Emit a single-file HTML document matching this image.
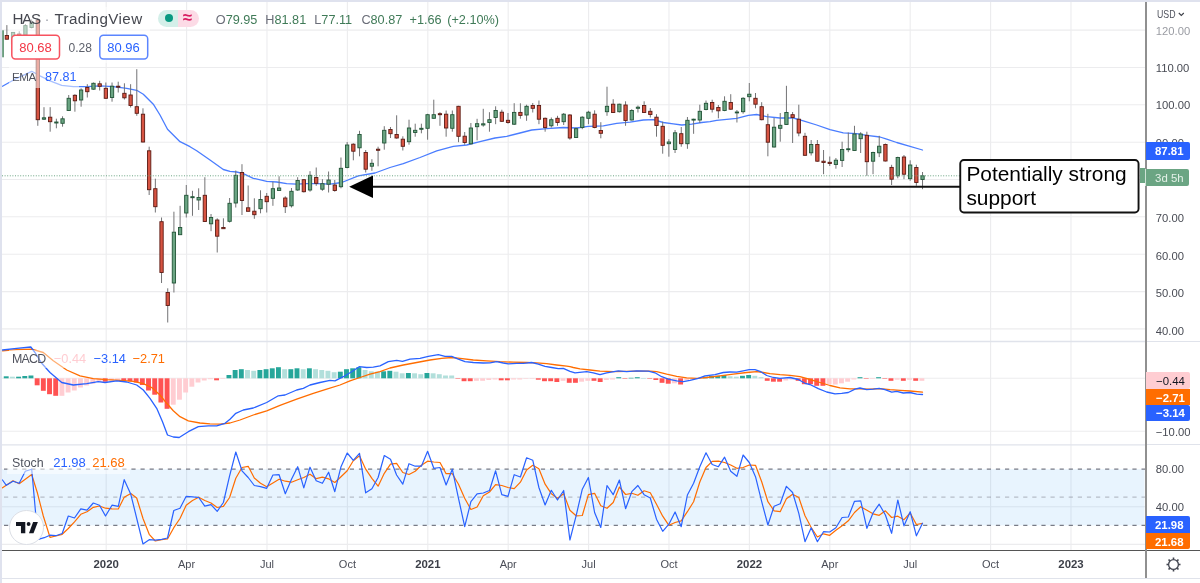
<!DOCTYPE html>
<html lang="en"><head><meta charset="utf-8"><title>HAS · TradingView</title>
<style>
html,body{margin:0;padding:0;background:#fff;}
body{width:1200px;height:583px;position:relative;overflow:hidden;font-family:"Liberation Sans",sans-serif;color:#4a4d57;}
.chart{position:absolute;left:0;top:0;}
.abs{position:absolute;white-space:nowrap;}
.lg{position:absolute;white-space:nowrap;background:rgba(255,255,255,.52);}
.plab{position:absolute;font-size:11.4px;text-align:left;box-sizing:border-box;padding-left:9px;border-radius:0 2px 2px 0;white-space:nowrap;}
.ptxt{position:absolute;font-size:11.25px;left:1155.8px;color:#484b54;white-space:nowrap;line-height:12px;}
.tl{position:absolute;font-size:11px;top:558px;width:60px;text-align:center;line-height:13px;color:#4a4d57;}
.tl.b{font-weight:700;font-size:11.4px;color:#3c3f48;}
.box{position:absolute;box-sizing:border-box;border:1px solid;border-radius:4px;font-size:13px;text-align:center;background:#fff;}
</style></head><body>
<svg class="chart" width="1200" height="583" viewBox="0 0 1200 583">
<g stroke="#ececee" stroke-width="1.1">
<line x1="106.2" y1="2" x2="106.2" y2="550"/>
<line x1="186.6" y1="2" x2="186.6" y2="550"/>
<line x1="267.0" y1="2" x2="267.0" y2="550"/>
<line x1="347.4" y1="2" x2="347.4" y2="550"/>
<line x1="427.8" y1="2" x2="427.8" y2="550"/>
<line x1="508.2" y1="2" x2="508.2" y2="550"/>
<line x1="588.6" y1="2" x2="588.6" y2="550"/>
<line x1="669.0" y1="2" x2="669.0" y2="550"/>
<line x1="749.4" y1="2" x2="749.4" y2="550"/>
<line x1="829.8" y1="2" x2="829.8" y2="550"/>
<line x1="910.2" y1="2" x2="910.2" y2="550"/>
<line x1="990.6" y1="2" x2="990.6" y2="550"/>
<line x1="1071.0" y1="2" x2="1071.0" y2="550"/>
<line x1="2" y1="328.9" x2="1146.0" y2="328.9"/>
<line x1="2" y1="291.6" x2="1146.0" y2="291.6"/>
<line x1="2" y1="254.2" x2="1146.0" y2="254.2"/>
<line x1="2" y1="216.8" x2="1146.0" y2="216.8"/>
<line x1="2" y1="179.5" x2="1146.0" y2="179.5"/>
<line x1="2" y1="142.2" x2="1146.0" y2="142.2"/>
<line x1="2" y1="104.8" x2="1146.0" y2="104.8"/>
<line x1="2" y1="67.5" x2="1146.0" y2="67.5"/>
<line x1="2" y1="30.1" x2="1146.0" y2="30.1"/>
<line x1="2" y1="378.2" x2="1146.0" y2="378.2"/>
<line x1="2" y1="431.3" x2="1146.0" y2="431.3"/>
<line x1="2" y1="506.7" x2="1146.0" y2="506.7"/>
<line x1="2" y1="544.4" x2="1146.0" y2="544.4"/>
</g>
<rect x="2" y="469.2" width="1142.5" height="56.2" fill="#2196f3" fill-opacity="0.10"/>
<g stroke="#787b86" stroke-width="1.2" stroke-dasharray="4.2 4.9" fill="none">
<line x1="4" y1="469.2" x2="1146.0" y2="469.2"/>
<line x1="4" y1="525.4" x2="1146.0" y2="525.4"/>
<line x1="4" y1="497.1" x2="1146.0" y2="497.1" stroke-opacity="0.45"/>
</g>
<polyline points="2.5,86.3 16.7,78.3 31.7,71.3 40.0,75.8 50.0,80.8 61.7,85.3 73.3,86.7 86.7,86.7 100.0,85.8 113.3,86.7 126.7,88.3 136.7,90.3 143.3,94.2 153.3,104.2 160.0,115.0 167.5,129.2 180.0,141.7 190.0,146.7 196.7,150.8 210.0,160.0 223.3,169.5 230.0,171.3 236.7,172.0 243.3,173.7 253.3,178.3 266.7,181.3 276.7,182.0 286.7,183.7 296.7,184.2 306.7,183.7 316.7,183.7 330.0,184.2 341.7,182.5 358.3,175.8 375.0,173.0 390.0,167.5 403.3,163.7 420.0,157.5 436.7,150.8 453.3,146.3 466.7,145.0 480.0,141.7 495.0,138.0 506.7,136.3 520.0,133.0 531.7,130.0 546.7,128.7 563.3,127.5 576.7,128.0 588.3,126.3 603.3,125.8 616.7,123.3 630.0,122.2 643.3,120.0 653.3,119.7 663.3,122.5 673.3,123.8 681.7,125.0 691.7,124.2 701.7,122.5 710.0,121.7 716.7,120.3 736.7,118.3 748.3,115.3 756.7,114.5 766.7,116.7 780.0,118.0 793.3,118.0 803.3,120.8 816.7,125.0 830.0,129.7 843.3,132.8 856.7,133.7 866.7,135.3 880.0,137.0 886.7,139.2 896.7,142.5 908.3,145.8 922.5,150.0" fill="none" stroke="#4a7dff" stroke-width="1.3" stroke-linejoin="round" stroke-linecap="round"/>
<g class="candles">
<g><line x1="31.61" y1="19.4" x2="31.61" y2="28.4" stroke="#737375" stroke-width="1"/><rect x="29.96" y="22.7" width="3.3" height="4.8" fill="#6ba583" stroke="#225437" stroke-width="0.9"/></g>
<g><line x1="25.43" y1="24.0" x2="25.43" y2="40.0" stroke="#737375" stroke-width="1"/><rect x="23.78" y="25.6" width="3.3" height="9.4" fill="#6ba583" stroke="#225437" stroke-width="0.9"/></g>
<g><line x1="19.24" y1="31.2" x2="19.24" y2="44.0" stroke="#737375" stroke-width="1"/><rect x="17.59" y="34.0" width="3.3" height="4.0" fill="#d75442" stroke="#5b1a13" stroke-width="0.9"/></g>
<g><line x1="13.05" y1="32.0" x2="13.05" y2="46.0" stroke="#737375" stroke-width="1"/><rect x="11.40" y="32.4" width="3.3" height="11.6" fill="#6ba583" stroke="#225437" stroke-width="0.9"/></g>
<g><line x1="6.86" y1="25.1" x2="6.86" y2="39.4" stroke="#737375" stroke-width="1"/><rect x="5.21" y="35.5" width="3.3" height="3.7" fill="#d75442" stroke="#5b1a13" stroke-width="0.9"/></g>
<rect x="2.2" y="30.3" width="1.7" height="27" fill="#5c9473"/>
<g><line x1="37.80" y1="18.0" x2="37.80" y2="125.8" stroke="#737375" stroke-width="1"/><rect x="36.15" y="20.0" width="3.3" height="99.7" fill="#d75442" stroke="#5b1a13" stroke-width="0.9"/></g>
<g><line x1="43.99" y1="107.2" x2="43.99" y2="120.0" stroke="#737375" stroke-width="1"/><rect x="42.34" y="117.8" width="3.3" height="1.4" fill="#6ba583" stroke="#225437" stroke-width="0.9"/></g>
<g><line x1="50.17" y1="107.2" x2="50.17" y2="131.7" stroke="#737375" stroke-width="1"/><rect x="48.52" y="117.2" width="3.3" height="4.5" fill="#d75442" stroke="#5b1a13" stroke-width="0.9"/></g>
<g><line x1="56.36" y1="118.7" x2="56.36" y2="128.3" stroke="#737375" stroke-width="1"/><rect x="54.71" y="122.0" width="3.3" height="1.0" fill="#6ba583" stroke="#225437" stroke-width="0.9"/></g>
<g><line x1="62.55" y1="116.3" x2="62.55" y2="126.7" stroke="#737375" stroke-width="1"/><rect x="60.90" y="118.8" width="3.3" height="4.5" fill="#6ba583" stroke="#225437" stroke-width="0.9"/></g>
<g><line x1="68.73" y1="95.0" x2="68.73" y2="110.8" stroke="#737375" stroke-width="1"/><rect x="67.08" y="98.3" width="3.3" height="12.2" fill="#6ba583" stroke="#225437" stroke-width="0.9"/></g>
<g><line x1="74.92" y1="94.2" x2="74.92" y2="111.7" stroke="#737375" stroke-width="1"/><rect x="73.27" y="95.3" width="3.3" height="5.5" fill="#d75442" stroke="#5b1a13" stroke-width="0.9"/></g>
<g><line x1="81.11" y1="88.3" x2="81.11" y2="106.7" stroke="#737375" stroke-width="1"/><rect x="79.46" y="90.0" width="3.3" height="10.0" fill="#6ba583" stroke="#225437" stroke-width="0.9"/></g>
<g><line x1="87.30" y1="84.2" x2="87.30" y2="97.5" stroke="#737375" stroke-width="1"/><rect x="85.65" y="87.5" width="3.3" height="4.2" fill="#d75442" stroke="#5b1a13" stroke-width="0.9"/></g>
<g><line x1="93.48" y1="82.5" x2="93.48" y2="89.7" stroke="#737375" stroke-width="1"/><rect x="91.83" y="83.3" width="3.3" height="5.9" fill="#6ba583" stroke="#225437" stroke-width="0.9"/></g>
<g><line x1="99.67" y1="80.8" x2="99.67" y2="90.5" stroke="#737375" stroke-width="1"/><rect x="98.02" y="83.8" width="3.3" height="2.5" fill="#d75442" stroke="#5b1a13" stroke-width="0.9"/></g>
<g><line x1="105.86" y1="82.5" x2="105.86" y2="98.7" stroke="#737375" stroke-width="1"/><rect x="104.21" y="88.3" width="3.3" height="10.0" fill="#d75442" stroke="#5b1a13" stroke-width="0.9"/></g>
<g><line x1="112.04" y1="82.5" x2="112.04" y2="101.7" stroke="#737375" stroke-width="1"/><rect x="110.39" y="86.2" width="3.3" height="11.3" fill="#6ba583" stroke="#225437" stroke-width="0.9"/></g>
<g><line x1="118.23" y1="81.7" x2="118.23" y2="92.5" stroke="#737375" stroke-width="1"/><rect x="116.58" y="86.2" width="3.3" height="1.0" fill="#d75442" stroke="#5b1a13" stroke-width="0.9"/></g>
<g><line x1="124.42" y1="83.3" x2="124.42" y2="99.5" stroke="#737375" stroke-width="1"/><rect x="122.77" y="93.3" width="3.3" height="4.5" fill="#d75442" stroke="#5b1a13" stroke-width="0.9"/></g>
<g><line x1="130.61" y1="84.2" x2="130.61" y2="107.5" stroke="#737375" stroke-width="1"/><rect x="128.96" y="95.0" width="3.3" height="10.5" fill="#d75442" stroke="#5b1a13" stroke-width="0.9"/></g>
<g><line x1="136.79" y1="69.2" x2="136.79" y2="115.8" stroke="#737375" stroke-width="1"/><rect x="135.14" y="106.7" width="3.3" height="6.6" fill="#d75442" stroke="#5b1a13" stroke-width="0.9"/></g>
<g><line x1="142.98" y1="108.3" x2="142.98" y2="142.5" stroke="#737375" stroke-width="1"/><rect x="141.33" y="114.2" width="3.3" height="27.8" fill="#d75442" stroke="#5b1a13" stroke-width="0.9"/></g>
<g><line x1="149.17" y1="146.7" x2="149.17" y2="195.0" stroke="#737375" stroke-width="1"/><rect x="147.52" y="150.8" width="3.3" height="38.9" fill="#d75442" stroke="#5b1a13" stroke-width="0.9"/></g>
<g><line x1="155.35" y1="178.7" x2="155.35" y2="212.5" stroke="#737375" stroke-width="1"/><rect x="153.70" y="188.7" width="3.3" height="18.0" fill="#d75442" stroke="#5b1a13" stroke-width="0.9"/></g>
<g><line x1="161.54" y1="217.5" x2="161.54" y2="283.0" stroke="#737375" stroke-width="1"/><rect x="159.89" y="221.7" width="3.3" height="50.8" fill="#d75442" stroke="#5b1a13" stroke-width="0.9"/></g>
<g><line x1="167.73" y1="288.3" x2="167.73" y2="322.5" stroke="#737375" stroke-width="1"/><rect x="166.08" y="292.5" width="3.3" height="13.0" fill="#d75442" stroke="#5b1a13" stroke-width="0.9"/></g>
<g><line x1="173.91" y1="211.7" x2="173.91" y2="292.5" stroke="#737375" stroke-width="1"/><rect x="172.26" y="232.2" width="3.3" height="50.8" fill="#6ba583" stroke="#225437" stroke-width="0.9"/></g>
<g><line x1="180.10" y1="205.8" x2="180.10" y2="234.7" stroke="#737375" stroke-width="1"/><rect x="178.45" y="227.5" width="3.3" height="7.2" fill="#6ba583" stroke="#225437" stroke-width="0.9"/></g>
<g><line x1="186.29" y1="185.0" x2="186.29" y2="217.5" stroke="#737375" stroke-width="1"/><rect x="184.64" y="195.3" width="3.3" height="17.7" fill="#6ba583" stroke="#225437" stroke-width="0.9"/></g>
<g><line x1="192.48" y1="190.8" x2="192.48" y2="215.8" stroke="#737375" stroke-width="1"/><rect x="190.83" y="196.7" width="3.3" height="1.0" fill="#6ba583" stroke="#225437" stroke-width="0.9"/></g>
<g><line x1="198.66" y1="188.3" x2="198.66" y2="210.0" stroke="#737375" stroke-width="1"/><rect x="197.01" y="197.5" width="3.3" height="2.5" fill="#6ba583" stroke="#225437" stroke-width="0.9"/></g>
<g><line x1="204.85" y1="177.2" x2="204.85" y2="221.7" stroke="#737375" stroke-width="1"/><rect x="203.20" y="195.3" width="3.3" height="26.2" fill="#d75442" stroke="#5b1a13" stroke-width="0.9"/></g>
<g><line x1="211.04" y1="214.0" x2="211.04" y2="231.2" stroke="#737375" stroke-width="1"/><rect x="209.39" y="217.5" width="3.3" height="6.3" fill="#6ba583" stroke="#225437" stroke-width="0.9"/></g>
<g><line x1="217.22" y1="218.3" x2="217.22" y2="252.5" stroke="#737375" stroke-width="1"/><rect x="215.57" y="220.0" width="3.3" height="16.2" fill="#d75442" stroke="#5b1a13" stroke-width="0.9"/></g>
<g><line x1="223.41" y1="218.3" x2="223.41" y2="228.7" stroke="#737375" stroke-width="1"/><rect x="221.76" y="227.5" width="3.3" height="1.2" fill="#d75442" stroke="#5b1a13" stroke-width="0.9"/></g>
<g><line x1="229.60" y1="198.0" x2="229.60" y2="222.5" stroke="#737375" stroke-width="1"/><rect x="227.95" y="203.3" width="3.3" height="18.0" fill="#6ba583" stroke="#225437" stroke-width="0.9"/></g>
<g><line x1="235.78" y1="170.5" x2="235.78" y2="207.5" stroke="#737375" stroke-width="1"/><rect x="234.13" y="175.3" width="3.3" height="27.7" fill="#6ba583" stroke="#225437" stroke-width="0.9"/></g>
<g><line x1="241.97" y1="164.2" x2="241.97" y2="215.0" stroke="#737375" stroke-width="1"/><rect x="240.32" y="172.5" width="3.3" height="28.0" fill="#d75442" stroke="#5b1a13" stroke-width="0.9"/></g>
<g><line x1="248.16" y1="185.5" x2="248.16" y2="211.5" stroke="#737375" stroke-width="1"/><rect x="246.51" y="207.8" width="3.3" height="3.5" fill="#d75442" stroke="#5b1a13" stroke-width="0.9"/></g>
<g><line x1="254.35" y1="198.3" x2="254.35" y2="218.8" stroke="#737375" stroke-width="1"/><rect x="252.70" y="211.2" width="3.3" height="3.5" fill="#d75442" stroke="#5b1a13" stroke-width="0.9"/></g>
<g><line x1="260.53" y1="190.3" x2="260.53" y2="213.3" stroke="#737375" stroke-width="1"/><rect x="258.88" y="199.5" width="3.3" height="9.2" fill="#6ba583" stroke="#225437" stroke-width="0.9"/></g>
<g><line x1="266.72" y1="193.0" x2="266.72" y2="212.5" stroke="#737375" stroke-width="1"/><rect x="265.07" y="196.3" width="3.3" height="5.4" fill="#d75442" stroke="#5b1a13" stroke-width="0.9"/></g>
<g><line x1="272.91" y1="181.7" x2="272.91" y2="205.8" stroke="#737375" stroke-width="1"/><rect x="271.26" y="188.7" width="3.3" height="9.6" fill="#6ba583" stroke="#225437" stroke-width="0.9"/></g>
<g><line x1="279.09" y1="176.3" x2="279.09" y2="190.8" stroke="#737375" stroke-width="1"/><rect x="277.44" y="188.0" width="3.3" height="2.5" fill="#6ba583" stroke="#225437" stroke-width="0.9"/></g>
<g><line x1="285.28" y1="196.3" x2="285.28" y2="213.0" stroke="#737375" stroke-width="1"/><rect x="283.63" y="198.0" width="3.3" height="8.7" fill="#d75442" stroke="#5b1a13" stroke-width="0.9"/></g>
<g><line x1="291.47" y1="188.0" x2="291.47" y2="207.5" stroke="#737375" stroke-width="1"/><rect x="289.82" y="191.3" width="3.3" height="14.5" fill="#6ba583" stroke="#225437" stroke-width="0.9"/></g>
<g><line x1="297.65" y1="177.2" x2="297.65" y2="190.8" stroke="#737375" stroke-width="1"/><rect x="296.00" y="180.5" width="3.3" height="9.5" fill="#6ba583" stroke="#225437" stroke-width="0.9"/></g>
<g><line x1="303.84" y1="179.2" x2="303.84" y2="192.5" stroke="#737375" stroke-width="1"/><rect x="302.19" y="179.7" width="3.3" height="12.0" fill="#d75442" stroke="#5b1a13" stroke-width="0.9"/></g>
<g><line x1="310.03" y1="171.2" x2="310.03" y2="191.7" stroke="#737375" stroke-width="1"/><rect x="308.38" y="175.3" width="3.3" height="14.7" fill="#6ba583" stroke="#225437" stroke-width="0.9"/></g>
<g><line x1="316.22" y1="167.5" x2="316.22" y2="185.8" stroke="#737375" stroke-width="1"/><rect x="314.57" y="177.5" width="3.3" height="5.8" fill="#d75442" stroke="#5b1a13" stroke-width="0.9"/></g>
<g><line x1="322.40" y1="179.2" x2="322.40" y2="190.8" stroke="#737375" stroke-width="1"/><rect x="320.75" y="183.7" width="3.3" height="5.5" fill="#6ba583" stroke="#225437" stroke-width="0.9"/></g>
<g><line x1="328.59" y1="171.5" x2="328.59" y2="192.5" stroke="#737375" stroke-width="1"/><rect x="326.94" y="180.0" width="3.3" height="4.2" fill="#6ba583" stroke="#225437" stroke-width="0.9"/></g>
<g><line x1="334.78" y1="180.0" x2="334.78" y2="191.7" stroke="#737375" stroke-width="1"/><rect x="333.13" y="185.0" width="3.3" height="5.5" fill="#d75442" stroke="#5b1a13" stroke-width="0.9"/></g>
<g><line x1="340.96" y1="157.5" x2="340.96" y2="188.3" stroke="#737375" stroke-width="1"/><rect x="339.31" y="168.3" width="3.3" height="18.4" fill="#6ba583" stroke="#225437" stroke-width="0.9"/></g>
<g><line x1="347.15" y1="142.0" x2="347.15" y2="168.3" stroke="#737375" stroke-width="1"/><rect x="345.50" y="145.0" width="3.3" height="22.5" fill="#6ba583" stroke="#225437" stroke-width="0.9"/></g>
<g><line x1="353.34" y1="143.3" x2="353.34" y2="160.3" stroke="#737375" stroke-width="1"/><rect x="351.69" y="144.2" width="3.3" height="7.0" fill="#d75442" stroke="#5b1a13" stroke-width="0.9"/></g>
<g><line x1="359.52" y1="130.8" x2="359.52" y2="156.3" stroke="#737375" stroke-width="1"/><rect x="357.87" y="134.5" width="3.3" height="13.3" fill="#6ba583" stroke="#225437" stroke-width="0.9"/></g>
<g><line x1="365.71" y1="150.0" x2="365.71" y2="172.5" stroke="#737375" stroke-width="1"/><rect x="364.06" y="152.5" width="3.3" height="16.7" fill="#d75442" stroke="#5b1a13" stroke-width="0.9"/></g>
<g><line x1="371.90" y1="159.2" x2="371.90" y2="170.8" stroke="#737375" stroke-width="1"/><rect x="370.25" y="163.3" width="3.3" height="2.9" fill="#6ba583" stroke="#225437" stroke-width="0.9"/></g>
<g><line x1="378.09" y1="146.7" x2="378.09" y2="166.3" stroke="#737375" stroke-width="1"/><rect x="376.44" y="149.2" width="3.3" height="1.1" fill="#d75442" stroke="#5b1a13" stroke-width="0.9"/></g>
<g><line x1="384.27" y1="126.2" x2="384.27" y2="149.7" stroke="#737375" stroke-width="1"/><rect x="382.62" y="130.3" width="3.3" height="12.7" fill="#6ba583" stroke="#225437" stroke-width="0.9"/></g>
<g><line x1="390.46" y1="127.0" x2="390.46" y2="138.0" stroke="#737375" stroke-width="1"/><rect x="388.81" y="129.5" width="3.3" height="4.2" fill="#d75442" stroke="#5b1a13" stroke-width="0.9"/></g>
<g><line x1="396.65" y1="115.3" x2="396.65" y2="138.7" stroke="#737375" stroke-width="1"/><rect x="395.00" y="134.5" width="3.3" height="3.5" fill="#d75442" stroke="#5b1a13" stroke-width="0.9"/></g>
<g><line x1="402.83" y1="136.3" x2="402.83" y2="150.5" stroke="#737375" stroke-width="1"/><rect x="401.18" y="139.2" width="3.3" height="7.1" fill="#d75442" stroke="#5b1a13" stroke-width="0.9"/></g>
<g><line x1="409.02" y1="119.7" x2="409.02" y2="144.7" stroke="#737375" stroke-width="1"/><rect x="407.37" y="128.0" width="3.3" height="13.7" fill="#6ba583" stroke="#225437" stroke-width="0.9"/></g>
<g><line x1="415.21" y1="123.7" x2="415.21" y2="136.7" stroke="#737375" stroke-width="1"/><rect x="413.56" y="130.3" width="3.3" height="2.2" fill="#6ba583" stroke="#225437" stroke-width="0.9"/></g>
<g><line x1="421.39" y1="123.7" x2="421.39" y2="133.3" stroke="#737375" stroke-width="1"/><rect x="419.74" y="128.3" width="3.3" height="1.0" fill="#6ba583" stroke="#225437" stroke-width="0.9"/></g>
<g><line x1="427.58" y1="113.8" x2="427.58" y2="139.7" stroke="#737375" stroke-width="1"/><rect x="425.93" y="114.7" width="3.3" height="13.6" fill="#6ba583" stroke="#225437" stroke-width="0.9"/></g>
<g><line x1="433.77" y1="99.7" x2="433.77" y2="118.7" stroke="#737375" stroke-width="1"/><rect x="432.12" y="114.7" width="3.3" height="3.6" fill="#6ba583" stroke="#225437" stroke-width="0.9"/></g>
<g><line x1="439.96" y1="112.2" x2="439.96" y2="125.8" stroke="#737375" stroke-width="1"/><rect x="438.31" y="113.7" width="3.3" height="1.0" fill="#d75442" stroke="#5b1a13" stroke-width="0.9"/></g>
<g><line x1="446.14" y1="110.5" x2="446.14" y2="136.7" stroke="#737375" stroke-width="1"/><rect x="444.49" y="114.2" width="3.3" height="13.8" fill="#d75442" stroke="#5b1a13" stroke-width="0.9"/></g>
<g><line x1="452.33" y1="110.5" x2="452.33" y2="131.7" stroke="#737375" stroke-width="1"/><rect x="450.68" y="114.7" width="3.3" height="13.6" fill="#6ba583" stroke="#225437" stroke-width="0.9"/></g>
<g><line x1="458.52" y1="105.8" x2="458.52" y2="142.2" stroke="#737375" stroke-width="1"/><rect x="456.87" y="106.3" width="3.3" height="30.0" fill="#d75442" stroke="#5b1a13" stroke-width="0.9"/></g>
<g><line x1="464.70" y1="132.0" x2="464.70" y2="144.7" stroke="#737375" stroke-width="1"/><rect x="463.05" y="136.2" width="3.3" height="6.3" fill="#d75442" stroke="#5b1a13" stroke-width="0.9"/></g>
<g><line x1="470.89" y1="123.0" x2="470.89" y2="144.7" stroke="#737375" stroke-width="1"/><rect x="469.24" y="128.0" width="3.3" height="15.8" fill="#6ba583" stroke="#225437" stroke-width="0.9"/></g>
<g><line x1="477.08" y1="118.8" x2="477.08" y2="140.3" stroke="#737375" stroke-width="1"/><rect x="475.43" y="123.7" width="3.3" height="3.0" fill="#6ba583" stroke="#225437" stroke-width="0.9"/></g>
<g><line x1="483.26" y1="108.8" x2="483.26" y2="126.7" stroke="#737375" stroke-width="1"/><rect x="481.61" y="123.8" width="3.3" height="1.2" fill="#6ba583" stroke="#225437" stroke-width="0.9"/></g>
<g><line x1="489.45" y1="112.2" x2="489.45" y2="131.7" stroke="#737375" stroke-width="1"/><rect x="487.80" y="119.7" width="3.3" height="2.8" fill="#6ba583" stroke="#225437" stroke-width="0.9"/></g>
<g><line x1="495.64" y1="106.3" x2="495.64" y2="124.2" stroke="#737375" stroke-width="1"/><rect x="493.99" y="110.5" width="3.3" height="7.0" fill="#6ba583" stroke="#225437" stroke-width="0.9"/></g>
<g><line x1="501.83" y1="109.7" x2="501.83" y2="122.0" stroke="#737375" stroke-width="1"/><rect x="500.18" y="112.2" width="3.3" height="9.1" fill="#d75442" stroke="#5b1a13" stroke-width="0.9"/></g>
<g><line x1="508.01" y1="113.0" x2="508.01" y2="123.7" stroke="#737375" stroke-width="1"/><rect x="506.36" y="120.3" width="3.3" height="2.2" fill="#d75442" stroke="#5b1a13" stroke-width="0.9"/></g>
<g><line x1="514.20" y1="103.2" x2="514.20" y2="125.0" stroke="#737375" stroke-width="1"/><rect x="512.55" y="112.4" width="3.3" height="11.8" fill="#6ba583" stroke="#225437" stroke-width="0.9"/></g>
<g><line x1="520.39" y1="103.3" x2="520.39" y2="118.7" stroke="#737375" stroke-width="1"/><rect x="518.74" y="112.4" width="3.3" height="3.0" fill="#d75442" stroke="#5b1a13" stroke-width="0.9"/></g>
<g><line x1="526.57" y1="104.7" x2="526.57" y2="120.8" stroke="#737375" stroke-width="1"/><rect x="524.92" y="106.3" width="3.3" height="8.7" fill="#6ba583" stroke="#225437" stroke-width="0.9"/></g>
<g><line x1="532.76" y1="103.0" x2="532.76" y2="112.5" stroke="#737375" stroke-width="1"/><rect x="531.11" y="105.5" width="3.3" height="2.8" fill="#d75442" stroke="#5b1a13" stroke-width="0.9"/></g>
<g><line x1="538.95" y1="100.5" x2="538.95" y2="124.2" stroke="#737375" stroke-width="1"/><rect x="537.30" y="105.5" width="3.3" height="13.7" fill="#d75442" stroke="#5b1a13" stroke-width="0.9"/></g>
<g><line x1="545.13" y1="117.5" x2="545.13" y2="131.7" stroke="#737375" stroke-width="1"/><rect x="543.48" y="118.3" width="3.3" height="9.2" fill="#d75442" stroke="#5b1a13" stroke-width="0.9"/></g>
<g><line x1="551.32" y1="117.5" x2="551.32" y2="127.5" stroke="#737375" stroke-width="1"/><rect x="549.67" y="119.7" width="3.3" height="6.1" fill="#6ba583" stroke="#225437" stroke-width="0.9"/></g>
<g><line x1="557.51" y1="115.8" x2="557.51" y2="125.8" stroke="#737375" stroke-width="1"/><rect x="555.86" y="118.3" width="3.3" height="4.2" fill="#d75442" stroke="#5b1a13" stroke-width="0.9"/></g>
<g><line x1="563.69" y1="113.0" x2="563.69" y2="125.0" stroke="#737375" stroke-width="1"/><rect x="562.04" y="114.2" width="3.3" height="7.5" fill="#6ba583" stroke="#225437" stroke-width="0.9"/></g>
<g><line x1="569.88" y1="114.2" x2="569.88" y2="139.7" stroke="#737375" stroke-width="1"/><rect x="568.23" y="115.0" width="3.3" height="23.0" fill="#d75442" stroke="#5b1a13" stroke-width="0.9"/></g>
<g><line x1="576.07" y1="127.5" x2="576.07" y2="138.0" stroke="#737375" stroke-width="1"/><rect x="574.42" y="128.7" width="3.3" height="8.8" fill="#6ba583" stroke="#225437" stroke-width="0.9"/></g>
<g><line x1="582.26" y1="116.2" x2="582.26" y2="129.2" stroke="#737375" stroke-width="1"/><rect x="580.61" y="117.2" width="3.3" height="10.3" fill="#6ba583" stroke="#225437" stroke-width="0.9"/></g>
<g><line x1="588.44" y1="110.8" x2="588.44" y2="124.2" stroke="#737375" stroke-width="1"/><rect x="586.79" y="112.2" width="3.3" height="6.1" fill="#6ba583" stroke="#225437" stroke-width="0.9"/></g>
<g><line x1="594.63" y1="110.3" x2="594.63" y2="128.3" stroke="#737375" stroke-width="1"/><rect x="592.98" y="114.2" width="3.3" height="13.3" fill="#d75442" stroke="#5b1a13" stroke-width="0.9"/></g>
<g><line x1="600.82" y1="122.2" x2="600.82" y2="138.3" stroke="#737375" stroke-width="1"/><rect x="599.17" y="130.5" width="3.3" height="2.8" fill="#d75442" stroke="#5b1a13" stroke-width="0.9"/></g>
<g><line x1="607.00" y1="86.7" x2="607.00" y2="115.8" stroke="#737375" stroke-width="1"/><rect x="605.35" y="106.3" width="3.3" height="5.4" fill="#6ba583" stroke="#225437" stroke-width="0.9"/></g>
<g><line x1="613.19" y1="99.2" x2="613.19" y2="113.0" stroke="#737375" stroke-width="1"/><rect x="611.54" y="104.2" width="3.3" height="8.3" fill="#d75442" stroke="#5b1a13" stroke-width="0.9"/></g>
<g><line x1="619.38" y1="103.7" x2="619.38" y2="112.5" stroke="#737375" stroke-width="1"/><rect x="617.73" y="104.2" width="3.3" height="7.5" fill="#6ba583" stroke="#225437" stroke-width="0.9"/></g>
<g><line x1="625.56" y1="101.3" x2="625.56" y2="125.8" stroke="#737375" stroke-width="1"/><rect x="623.91" y="105.0" width="3.3" height="15.5" fill="#d75442" stroke="#5b1a13" stroke-width="0.9"/></g>
<g><line x1="631.75" y1="109.2" x2="631.75" y2="120.5" stroke="#737375" stroke-width="1"/><rect x="630.10" y="110.5" width="3.3" height="9.5" fill="#6ba583" stroke="#225437" stroke-width="0.9"/></g>
<g><line x1="637.94" y1="105.5" x2="637.94" y2="112.5" stroke="#737375" stroke-width="1"/><rect x="636.29" y="107.2" width="3.3" height="1.1" fill="#6ba583" stroke="#225437" stroke-width="0.9"/></g>
<g><line x1="644.13" y1="101.3" x2="644.13" y2="113.0" stroke="#737375" stroke-width="1"/><rect x="642.48" y="105.5" width="3.3" height="7.0" fill="#d75442" stroke="#5b1a13" stroke-width="0.9"/></g>
<g><line x1="650.31" y1="108.0" x2="650.31" y2="117.5" stroke="#737375" stroke-width="1"/><rect x="648.66" y="111.3" width="3.3" height="3.2" fill="#d75442" stroke="#5b1a13" stroke-width="0.9"/></g>
<g><line x1="656.50" y1="114.2" x2="656.50" y2="136.7" stroke="#737375" stroke-width="1"/><rect x="654.85" y="117.2" width="3.3" height="8.3" fill="#d75442" stroke="#5b1a13" stroke-width="0.9"/></g>
<g><line x1="662.69" y1="121.7" x2="662.69" y2="153.7" stroke="#737375" stroke-width="1"/><rect x="661.04" y="126.3" width="3.3" height="19.0" fill="#d75442" stroke="#5b1a13" stroke-width="0.9"/></g>
<g><line x1="668.87" y1="139.2" x2="668.87" y2="156.7" stroke="#737375" stroke-width="1"/><rect x="667.22" y="142.0" width="3.3" height="1.7" fill="#6ba583" stroke="#225437" stroke-width="0.9"/></g>
<g><line x1="675.06" y1="130.0" x2="675.06" y2="153.0" stroke="#737375" stroke-width="1"/><rect x="673.41" y="132.8" width="3.3" height="16.7" fill="#6ba583" stroke="#225437" stroke-width="0.9"/></g>
<g><line x1="681.25" y1="127.0" x2="681.25" y2="146.7" stroke="#737375" stroke-width="1"/><rect x="679.60" y="133.7" width="3.3" height="10.0" fill="#d75442" stroke="#5b1a13" stroke-width="0.9"/></g>
<g><line x1="687.43" y1="117.0" x2="687.43" y2="148.8" stroke="#737375" stroke-width="1"/><rect x="685.78" y="120.3" width="3.3" height="23.4" fill="#6ba583" stroke="#225437" stroke-width="0.9"/></g>
<g><line x1="693.62" y1="118.7" x2="693.62" y2="133.8" stroke="#737375" stroke-width="1"/><rect x="691.97" y="119.2" width="3.3" height="0.9" fill="#6ba583" stroke="#225437" stroke-width="0.9"/></g>
<g><line x1="699.81" y1="104.7" x2="699.81" y2="123.0" stroke="#737375" stroke-width="1"/><rect x="698.16" y="111.3" width="3.3" height="8.7" fill="#6ba583" stroke="#225437" stroke-width="0.9"/></g>
<g><line x1="706.00" y1="100.5" x2="706.00" y2="110.3" stroke="#737375" stroke-width="1"/><rect x="704.35" y="103.3" width="3.3" height="6.2" fill="#6ba583" stroke="#225437" stroke-width="0.9"/></g>
<g><line x1="712.18" y1="99.7" x2="712.18" y2="112.5" stroke="#737375" stroke-width="1"/><rect x="710.53" y="102.5" width="3.3" height="6.7" fill="#d75442" stroke="#5b1a13" stroke-width="0.9"/></g>
<g><line x1="718.37" y1="105.0" x2="718.37" y2="118.3" stroke="#737375" stroke-width="1"/><rect x="716.72" y="107.5" width="3.3" height="3.3" fill="#d75442" stroke="#5b1a13" stroke-width="0.9"/></g>
<g><line x1="724.56" y1="96.3" x2="724.56" y2="111.2" stroke="#737375" stroke-width="1"/><rect x="722.91" y="101.3" width="3.3" height="9.2" fill="#6ba583" stroke="#225437" stroke-width="0.9"/></g>
<g><line x1="730.74" y1="94.2" x2="730.74" y2="109.7" stroke="#737375" stroke-width="1"/><rect x="729.09" y="102.5" width="3.3" height="6.7" fill="#d75442" stroke="#5b1a13" stroke-width="0.9"/></g>
<g><line x1="736.93" y1="110.0" x2="736.93" y2="122.5" stroke="#737375" stroke-width="1"/><rect x="735.28" y="112.0" width="3.3" height="0.9" fill="#6ba583" stroke="#225437" stroke-width="0.9"/></g>
<g><line x1="743.12" y1="97.2" x2="743.12" y2="113.7" stroke="#737375" stroke-width="1"/><rect x="741.47" y="98.3" width="3.3" height="13.4" fill="#6ba583" stroke="#225437" stroke-width="0.9"/></g>
<g><line x1="749.30" y1="83.0" x2="749.30" y2="101.3" stroke="#737375" stroke-width="1"/><rect x="747.65" y="94.2" width="3.3" height="2.5" fill="#6ba583" stroke="#225437" stroke-width="0.9"/></g>
<g><line x1="755.49" y1="93.0" x2="755.49" y2="108.3" stroke="#737375" stroke-width="1"/><rect x="753.84" y="98.3" width="3.3" height="5.9" fill="#d75442" stroke="#5b1a13" stroke-width="0.9"/></g>
<g><line x1="761.68" y1="102.2" x2="761.68" y2="120.3" stroke="#737375" stroke-width="1"/><rect x="760.03" y="106.7" width="3.3" height="13.0" fill="#d75442" stroke="#5b1a13" stroke-width="0.9"/></g>
<g><line x1="767.87" y1="113.8" x2="767.87" y2="156.3" stroke="#737375" stroke-width="1"/><rect x="766.22" y="124.7" width="3.3" height="17.5" fill="#d75442" stroke="#5b1a13" stroke-width="0.9"/></g>
<g><line x1="774.05" y1="118.0" x2="774.05" y2="147.5" stroke="#737375" stroke-width="1"/><rect x="772.40" y="127.2" width="3.3" height="19.8" fill="#6ba583" stroke="#225437" stroke-width="0.9"/></g>
<g><line x1="780.24" y1="113.0" x2="780.24" y2="141.7" stroke="#737375" stroke-width="1"/><rect x="778.59" y="125.3" width="3.3" height="3.0" fill="#6ba583" stroke="#225437" stroke-width="0.9"/></g>
<g><line x1="786.43" y1="85.8" x2="786.43" y2="125.0" stroke="#737375" stroke-width="1"/><rect x="784.78" y="112.5" width="3.3" height="12.0" fill="#6ba583" stroke="#225437" stroke-width="0.9"/></g>
<g><line x1="792.61" y1="112.0" x2="792.61" y2="143.0" stroke="#737375" stroke-width="1"/><rect x="790.96" y="114.7" width="3.3" height="2.8" fill="#d75442" stroke="#5b1a13" stroke-width="0.9"/></g>
<g><line x1="798.80" y1="104.7" x2="798.80" y2="136.3" stroke="#737375" stroke-width="1"/><rect x="797.15" y="119.2" width="3.3" height="13.8" fill="#d75442" stroke="#5b1a13" stroke-width="0.9"/></g>
<g><line x1="804.99" y1="132.8" x2="804.99" y2="155.8" stroke="#737375" stroke-width="1"/><rect x="803.34" y="136.3" width="3.3" height="19.0" fill="#d75442" stroke="#5b1a13" stroke-width="0.9"/></g>
<g><line x1="811.17" y1="140.0" x2="811.17" y2="155.5" stroke="#737375" stroke-width="1"/><rect x="809.52" y="144.5" width="3.3" height="8.3" fill="#6ba583" stroke="#225437" stroke-width="0.9"/></g>
<g><line x1="817.36" y1="140.0" x2="817.36" y2="161.7" stroke="#737375" stroke-width="1"/><rect x="815.71" y="144.5" width="3.3" height="16.7" fill="#d75442" stroke="#5b1a13" stroke-width="0.9"/></g>
<g><line x1="823.55" y1="150.0" x2="823.55" y2="174.2" stroke="#737375" stroke-width="1"/><rect x="821.90" y="161.2" width="3.3" height="1.3" fill="#d75442" stroke="#5b1a13" stroke-width="0.9"/></g>
<g><line x1="829.74" y1="156.5" x2="829.74" y2="166.0" stroke="#737375" stroke-width="1"/><rect x="828.09" y="162.3" width="3.3" height="1.2" fill="#d75442" stroke="#5b1a13" stroke-width="0.9"/></g>
<g><line x1="835.92" y1="158.0" x2="835.92" y2="168.7" stroke="#737375" stroke-width="1"/><rect x="834.27" y="160.2" width="3.3" height="4.3" fill="#6ba583" stroke="#225437" stroke-width="0.9"/></g>
<g><line x1="842.11" y1="141.7" x2="842.11" y2="167.0" stroke="#737375" stroke-width="1"/><rect x="840.46" y="149.5" width="3.3" height="10.9" fill="#6ba583" stroke="#225437" stroke-width="0.9"/></g>
<g><line x1="848.30" y1="132.5" x2="848.30" y2="152.2" stroke="#737375" stroke-width="1"/><rect x="846.65" y="148.8" width="3.3" height="0.9" fill="#6ba583" stroke="#225437" stroke-width="0.9"/></g>
<g><line x1="854.48" y1="125.8" x2="854.48" y2="150.8" stroke="#737375" stroke-width="1"/><rect x="852.83" y="134.0" width="3.3" height="16.5" fill="#6ba583" stroke="#225437" stroke-width="0.9"/></g>
<g><line x1="860.67" y1="132.2" x2="860.67" y2="153.0" stroke="#737375" stroke-width="1"/><rect x="859.02" y="134.0" width="3.3" height="4.7" fill="#6ba583" stroke="#225437" stroke-width="0.9"/></g>
<g><line x1="866.86" y1="131.7" x2="866.86" y2="175.8" stroke="#737375" stroke-width="1"/><rect x="865.21" y="135.3" width="3.3" height="26.4" fill="#d75442" stroke="#5b1a13" stroke-width="0.9"/></g>
<g><line x1="873.04" y1="151.7" x2="873.04" y2="174.2" stroke="#737375" stroke-width="1"/><rect x="871.39" y="152.5" width="3.3" height="8.7" fill="#6ba583" stroke="#225437" stroke-width="0.9"/></g>
<g><line x1="879.23" y1="135.8" x2="879.23" y2="157.1" stroke="#737375" stroke-width="1"/><rect x="877.58" y="146.2" width="3.3" height="6.6" fill="#6ba583" stroke="#225437" stroke-width="0.9"/></g>
<g><line x1="885.42" y1="143.5" x2="885.42" y2="161.5" stroke="#737375" stroke-width="1"/><rect x="883.77" y="144.5" width="3.3" height="16.5" fill="#d75442" stroke="#5b1a13" stroke-width="0.9"/></g>
<g><line x1="891.61" y1="164.8" x2="891.61" y2="185.0" stroke="#737375" stroke-width="1"/><rect x="889.96" y="167.4" width="3.3" height="11.8" fill="#d75442" stroke="#5b1a13" stroke-width="0.9"/></g>
<g><line x1="897.79" y1="156.7" x2="897.79" y2="178.3" stroke="#737375" stroke-width="1"/><rect x="896.14" y="157.5" width="3.3" height="18.3" fill="#6ba583" stroke="#225437" stroke-width="0.9"/></g>
<g><line x1="903.98" y1="155.0" x2="903.98" y2="179.2" stroke="#737375" stroke-width="1"/><rect x="902.33" y="157.0" width="3.3" height="17.2" fill="#d75442" stroke="#5b1a13" stroke-width="0.9"/></g>
<g><line x1="910.17" y1="160.3" x2="910.17" y2="180.8" stroke="#737375" stroke-width="1"/><rect x="908.52" y="165.0" width="3.3" height="13.7" fill="#6ba583" stroke="#225437" stroke-width="0.9"/></g>
<g><line x1="916.35" y1="164.7" x2="916.35" y2="185.8" stroke="#737375" stroke-width="1"/><rect x="914.70" y="167.5" width="3.3" height="15.0" fill="#d75442" stroke="#5b1a13" stroke-width="0.9"/></g>
<g><line x1="922.54" y1="172.0" x2="922.54" y2="189.2" stroke="#737375" stroke-width="1"/><rect x="920.89" y="175.8" width="3.3" height="3.7" fill="#6ba583" stroke="#225437" stroke-width="0.9"/></g>
</g>
<line x1="2" y1="175.8" x2="1146.0" y2="175.8" stroke="#6ba583" stroke-width="1" stroke-dasharray="1 1.6"/>
<g class="hist">
<rect x="2.50" y="376.3" width="-0.02" height="2.0" fill="#26a69a"/>
<rect x="3.76" y="376.3" width="4.90" height="2.0" fill="#26a69a"/>
<rect x="9.95" y="376.7" width="4.90" height="1.6" fill="#b2dfdb"/>
<rect x="16.14" y="376.7" width="4.90" height="1.6" fill="#26a69a"/>
<rect x="22.33" y="376.0" width="4.90" height="2.3" fill="#26a69a"/>
<rect x="28.51" y="375.5" width="4.90" height="2.8" fill="#26a69a"/>
<rect x="34.70" y="378.3" width="4.90" height="7.0" fill="#ff5252"/>
<rect x="40.89" y="378.3" width="4.90" height="12.5" fill="#ff5252"/>
<rect x="47.07" y="378.3" width="4.90" height="15.9" fill="#ff5252"/>
<rect x="53.26" y="378.3" width="4.90" height="17.5" fill="#ff5252"/>
<rect x="59.45" y="378.3" width="4.90" height="17.5" fill="#ffcdd2"/>
<rect x="65.64" y="378.3" width="4.90" height="14.2" fill="#ffcdd2"/>
<rect x="71.82" y="378.3" width="4.90" height="12.2" fill="#ffcdd2"/>
<rect x="78.01" y="378.3" width="4.90" height="9.2" fill="#ffcdd2"/>
<rect x="84.20" y="378.3" width="4.90" height="7.2" fill="#ffcdd2"/>
<rect x="90.38" y="378.3" width="4.90" height="5.4" fill="#ffcdd2"/>
<rect x="96.57" y="378.3" width="4.90" height="3.7" fill="#ffcdd2"/>
<rect x="102.76" y="378.3" width="4.90" height="3.4" fill="#ff5252"/>
<rect x="108.94" y="378.3" width="4.90" height="2.0" fill="#ffcdd2"/>
<rect x="115.13" y="378.3" width="4.90" height="1.7" fill="#ffcdd2"/>
<rect x="121.32" y="378.3" width="4.90" height="2.5" fill="#ff5252"/>
<rect x="127.51" y="378.3" width="4.90" height="3.0" fill="#ff5252"/>
<rect x="133.69" y="378.3" width="4.90" height="4.2" fill="#ff5252"/>
<rect x="139.88" y="378.3" width="4.90" height="6.7" fill="#ff5252"/>
<rect x="146.07" y="378.3" width="4.90" height="12.2" fill="#ff5252"/>
<rect x="152.25" y="378.3" width="4.90" height="16.4" fill="#ff5252"/>
<rect x="158.44" y="378.3" width="4.90" height="24.2" fill="#ff5252"/>
<rect x="164.63" y="378.3" width="4.90" height="30.5" fill="#ff5252"/>
<rect x="170.81" y="378.3" width="4.90" height="26.4" fill="#ffcdd2"/>
<rect x="177.00" y="378.3" width="4.90" height="21.4" fill="#ffcdd2"/>
<rect x="183.19" y="378.3" width="4.90" height="14.2" fill="#ffcdd2"/>
<rect x="189.38" y="378.3" width="4.90" height="8.4" fill="#ffcdd2"/>
<rect x="195.56" y="378.3" width="4.90" height="4.2" fill="#ffcdd2"/>
<rect x="201.75" y="378.3" width="4.90" height="2.2" fill="#ffcdd2"/>
<rect x="207.94" y="378.3" width="4.90" height="0.9" fill="#ffcdd2"/>
<rect x="214.12" y="378.3" width="4.90" height="2.0" fill="#ff5252"/>
<rect x="220.31" y="378.3" width="4.90" height="0.6" fill="#ffcdd2"/>
<rect x="226.50" y="375.0" width="4.90" height="3.3" fill="#26a69a"/>
<rect x="232.68" y="370.0" width="4.90" height="8.3" fill="#26a69a"/>
<rect x="238.87" y="369.2" width="4.90" height="9.1" fill="#26a69a"/>
<rect x="245.06" y="370.0" width="4.90" height="8.3" fill="#b2dfdb"/>
<rect x="251.25" y="370.8" width="4.90" height="7.5" fill="#b2dfdb"/>
<rect x="257.43" y="370.0" width="4.90" height="8.3" fill="#26a69a"/>
<rect x="263.62" y="369.2" width="4.90" height="9.1" fill="#26a69a"/>
<rect x="269.81" y="368.3" width="4.90" height="10.0" fill="#26a69a"/>
<rect x="275.99" y="367.2" width="4.90" height="11.1" fill="#26a69a"/>
<rect x="282.18" y="369.2" width="4.90" height="9.1" fill="#b2dfdb"/>
<rect x="288.37" y="369.2" width="4.90" height="9.1" fill="#26a69a"/>
<rect x="294.55" y="368.3" width="4.90" height="10.0" fill="#26a69a"/>
<rect x="300.74" y="369.2" width="4.90" height="9.1" fill="#b2dfdb"/>
<rect x="306.93" y="368.3" width="4.90" height="10.0" fill="#26a69a"/>
<rect x="313.12" y="369.2" width="4.90" height="9.1" fill="#b2dfdb"/>
<rect x="319.30" y="370.0" width="4.90" height="8.3" fill="#b2dfdb"/>
<rect x="325.49" y="370.8" width="4.90" height="7.5" fill="#b2dfdb"/>
<rect x="331.68" y="372.2" width="4.90" height="6.1" fill="#b2dfdb"/>
<rect x="337.86" y="371.7" width="4.90" height="6.6" fill="#26a69a"/>
<rect x="344.05" y="369.2" width="4.90" height="9.1" fill="#26a69a"/>
<rect x="350.24" y="368.3" width="4.90" height="10.0" fill="#26a69a"/>
<rect x="356.42" y="367.2" width="4.90" height="11.1" fill="#26a69a"/>
<rect x="362.61" y="370.0" width="4.90" height="8.3" fill="#b2dfdb"/>
<rect x="368.80" y="371.3" width="4.90" height="7.0" fill="#b2dfdb"/>
<rect x="374.99" y="371.7" width="4.90" height="6.6" fill="#b2dfdb"/>
<rect x="381.17" y="371.3" width="4.90" height="7.0" fill="#26a69a"/>
<rect x="387.36" y="370.8" width="4.90" height="7.5" fill="#26a69a"/>
<rect x="393.55" y="371.7" width="4.90" height="6.6" fill="#b2dfdb"/>
<rect x="399.73" y="373.3" width="4.90" height="5.0" fill="#b2dfdb"/>
<rect x="405.92" y="373.0" width="4.90" height="5.3" fill="#26a69a"/>
<rect x="412.11" y="373.3" width="4.90" height="5.0" fill="#b2dfdb"/>
<rect x="418.29" y="374.2" width="4.90" height="4.1" fill="#b2dfdb"/>
<rect x="424.48" y="373.0" width="4.90" height="5.3" fill="#26a69a"/>
<rect x="430.67" y="373.3" width="4.90" height="5.0" fill="#b2dfdb"/>
<rect x="436.86" y="374.2" width="4.90" height="4.1" fill="#b2dfdb"/>
<rect x="443.04" y="375.5" width="4.90" height="2.8" fill="#b2dfdb"/>
<rect x="449.23" y="375.5" width="4.90" height="2.8" fill="#b2dfdb"/>
<rect x="455.42" y="378.3" width="4.90" height="0.5" fill="#ff5252"/>
<rect x="461.60" y="378.3" width="4.90" height="2.9" fill="#ff5252"/>
<rect x="467.79" y="378.3" width="4.90" height="2.9" fill="#ff5252"/>
<rect x="473.98" y="378.3" width="4.90" height="2.5" fill="#ffcdd2"/>
<rect x="480.16" y="378.3" width="4.90" height="2.5" fill="#ffcdd2"/>
<rect x="486.35" y="378.3" width="4.90" height="1.7" fill="#ffcdd2"/>
<rect x="492.54" y="378.3" width="4.90" height="1.2" fill="#ffcdd2"/>
<rect x="498.73" y="378.3" width="4.90" height="2.0" fill="#ff5252"/>
<rect x="504.91" y="378.3" width="4.90" height="2.0" fill="#ff5252"/>
<rect x="511.10" y="378.3" width="4.90" height="1.2" fill="#ffcdd2"/>
<rect x="517.29" y="378.3" width="4.90" height="1.2" fill="#ffcdd2"/>
<rect x="523.47" y="378.3" width="4.90" height="0.5" fill="#ffcdd2"/>
<rect x="529.66" y="378.3" width="4.90" height="0.5" fill="#ffcdd2"/>
<rect x="535.85" y="378.3" width="4.90" height="1.4" fill="#ff5252"/>
<rect x="542.03" y="378.3" width="4.90" height="2.9" fill="#ff5252"/>
<rect x="548.22" y="378.3" width="4.90" height="2.9" fill="#ff5252"/>
<rect x="554.41" y="378.3" width="4.90" height="3.7" fill="#ff5252"/>
<rect x="560.59" y="378.3" width="4.90" height="2.5" fill="#ffcdd2"/>
<rect x="566.78" y="378.3" width="4.90" height="4.5" fill="#ff5252"/>
<rect x="572.97" y="378.3" width="4.90" height="4.5" fill="#ff5252"/>
<rect x="579.16" y="378.3" width="4.90" height="3.4" fill="#ffcdd2"/>
<rect x="585.34" y="378.3" width="4.90" height="2.5" fill="#ffcdd2"/>
<rect x="591.53" y="378.3" width="4.90" height="2.5" fill="#ff5252"/>
<rect x="597.72" y="378.3" width="4.90" height="3.7" fill="#ff5252"/>
<rect x="603.90" y="378.3" width="4.90" height="1.7" fill="#ffcdd2"/>
<rect x="610.09" y="378.3" width="4.90" height="1.2" fill="#ffcdd2"/>
<rect x="616.28" y="377.2" width="4.90" height="1.1" fill="#26a69a"/>
<rect x="622.46" y="378.3" width="4.90" height="0.5" fill="#ff5252"/>
<rect x="628.65" y="377.8" width="4.90" height="0.6" fill="#26a69a"/>
<rect x="634.84" y="377.2" width="4.90" height="1.1" fill="#26a69a"/>
<rect x="641.03" y="378.0" width="4.90" height="0.6" fill="#b2dfdb"/>
<rect x="647.21" y="378.3" width="4.90" height="0.5" fill="#ff5252"/>
<rect x="653.40" y="378.3" width="4.90" height="1.7" fill="#ff5252"/>
<rect x="659.59" y="378.3" width="4.90" height="4.5" fill="#ff5252"/>
<rect x="665.77" y="378.3" width="4.90" height="5.4" fill="#ff5252"/>
<rect x="671.96" y="378.3" width="4.90" height="5.0" fill="#ffcdd2"/>
<rect x="678.15" y="378.3" width="4.90" height="6.2" fill="#ff5252"/>
<rect x="684.33" y="378.3" width="4.90" height="1.7" fill="#ffcdd2"/>
<rect x="690.52" y="378.3" width="4.90" height="0.5" fill="#ffcdd2"/>
<rect x="696.71" y="378.3" width="4.90" height="0.6" fill="#ffcdd2"/>
<rect x="702.90" y="376.7" width="4.90" height="1.6" fill="#26a69a"/>
<rect x="709.08" y="375.8" width="4.90" height="2.5" fill="#26a69a"/>
<rect x="715.27" y="375.8" width="4.90" height="2.5" fill="#26a69a"/>
<rect x="721.46" y="375.0" width="4.90" height="3.3" fill="#26a69a"/>
<rect x="727.64" y="376.3" width="4.90" height="2.0" fill="#b2dfdb"/>
<rect x="733.83" y="376.7" width="4.90" height="1.6" fill="#b2dfdb"/>
<rect x="740.02" y="375.8" width="4.90" height="2.5" fill="#26a69a"/>
<rect x="746.20" y="375.0" width="4.90" height="3.3" fill="#26a69a"/>
<rect x="752.39" y="375.8" width="4.90" height="2.5" fill="#b2dfdb"/>
<rect x="758.58" y="377.2" width="4.90" height="1.1" fill="#b2dfdb"/>
<rect x="764.77" y="378.3" width="4.90" height="2.5" fill="#ff5252"/>
<rect x="770.95" y="378.3" width="4.90" height="3.4" fill="#ff5252"/>
<rect x="777.14" y="378.3" width="4.90" height="3.4" fill="#ff5252"/>
<rect x="783.33" y="378.3" width="4.90" height="2.2" fill="#ffcdd2"/>
<rect x="789.51" y="378.3" width="4.90" height="1.4" fill="#ffcdd2"/>
<rect x="795.70" y="378.3" width="4.90" height="2.5" fill="#ff5252"/>
<rect x="801.89" y="378.3" width="4.90" height="5.9" fill="#ff5252"/>
<rect x="808.07" y="378.3" width="4.90" height="5.9" fill="#ff5252"/>
<rect x="814.26" y="378.3" width="4.90" height="7.5" fill="#ff5252"/>
<rect x="820.45" y="378.3" width="4.90" height="7.5" fill="#ff5252"/>
<rect x="826.64" y="378.3" width="4.90" height="5.9" fill="#ffcdd2"/>
<rect x="832.82" y="378.3" width="4.90" height="6.2" fill="#ffcdd2"/>
<rect x="839.01" y="378.3" width="4.90" height="5.0" fill="#ffcdd2"/>
<rect x="845.20" y="378.3" width="4.90" height="3.4" fill="#ffcdd2"/>
<rect x="851.38" y="378.3" width="4.90" height="1.2" fill="#ffcdd2"/>
<rect x="857.57" y="377.2" width="4.90" height="1.1" fill="#26a69a"/>
<rect x="863.76" y="378.3" width="4.90" height="0.5" fill="#ff5252"/>
<rect x="869.94" y="378.3" width="4.90" height="0.6" fill="#ffcdd2"/>
<rect x="876.13" y="377.2" width="4.90" height="1.1" fill="#26a69a"/>
<rect x="882.32" y="378.3" width="4.90" height="0.5" fill="#ff5252"/>
<rect x="888.51" y="378.3" width="4.90" height="2.5" fill="#ff5252"/>
<rect x="894.69" y="378.3" width="4.90" height="1.4" fill="#ffcdd2"/>
<rect x="900.88" y="378.3" width="4.90" height="2.5" fill="#ff5252"/>
<rect x="907.07" y="378.3" width="4.90" height="1.4" fill="#ffcdd2"/>
<rect x="913.25" y="378.3" width="4.90" height="2.5" fill="#ff5252"/>
<rect x="919.44" y="378.3" width="4.90" height="2.5" fill="#ffcdd2"/>
</g>
<polyline points="2.5,350.8 16.7,349.7 31.7,349.2 43.3,352.5 53.3,360.8 66.7,370.0 80.0,375.8 93.3,378.7 106.7,379.7 120.0,380.3 133.3,381.3 143.3,383.7 151.7,387.5 160.0,395.0 166.7,403.3 173.3,410.8 180.0,416.7 188.3,420.8 200.0,423.0 210.0,423.8 220.0,424.2 230.0,423.0 240.0,420.0 253.3,415.0 266.7,410.8 280.0,405.3 296.7,399.2 313.3,393.3 326.7,389.2 340.0,385.0 350.0,380.8 360.0,377.5 370.0,374.2 380.0,371.7 390.0,368.0 403.3,365.0 416.7,362.5 430.0,360.0 441.7,358.3 451.7,357.5 460.0,358.3 473.3,360.0 486.7,360.8 500.0,361.7 513.3,362.2 526.7,362.5 536.7,362.8 546.7,363.7 556.7,365.0 566.7,366.2 570.0,366.7 573.3,367.5 580.0,368.8 590.0,370.0 600.0,371.2 613.3,371.7 626.7,371.3 640.0,371.2 650.0,371.2 656.7,371.7 666.7,374.2 676.7,376.3 686.7,377.8 696.7,378.3 706.7,377.5 720.0,375.8 733.3,374.2 746.7,372.5 756.7,371.7 760.0,372.0 763.3,372.5 770.0,373.7 780.0,374.7 790.0,375.3 800.0,376.7 810.0,379.5 820.0,382.5 830.0,385.5 840.0,387.8 850.0,388.8 860.0,388.8 870.0,389.2 880.0,388.7 890.0,389.7 900.0,390.3 910.0,391.0 922.5,392.2" fill="none" stroke="#ff6d00" stroke-width="1.3" stroke-linejoin="round" stroke-linecap="round"/>
<polyline points="2.5,350.0 16.7,348.3 30.8,347.0 35.0,352.5 41.7,363.3 50.0,372.5 61.7,382.5 73.3,385.0 86.7,383.7 98.3,381.7 105.0,382.5 116.7,380.8 126.7,382.0 136.7,385.0 143.3,390.0 150.0,398.3 156.7,408.3 162.5,421.7 167.5,435.0 173.3,437.0 179.2,437.5 188.3,431.7 198.3,426.7 208.3,425.8 216.7,425.8 225.0,423.3 230.0,419.2 235.8,413.3 243.3,410.0 253.3,408.0 266.7,402.5 278.3,395.8 285.0,395.0 296.7,390.0 303.3,388.3 310.0,385.0 320.0,382.5 330.0,380.3 335.0,380.8 343.3,376.7 351.7,371.7 359.2,366.7 366.7,367.5 373.3,367.2 380.0,365.8 388.3,361.7 396.7,360.3 402.5,361.3 410.0,359.2 420.0,358.3 428.3,356.3 438.3,354.7 445.0,356.3 451.7,356.3 458.3,359.2 465.0,361.7 473.3,362.5 483.3,363.0 490.0,362.8 496.7,361.7 503.3,363.0 508.3,363.8 516.7,363.3 523.3,363.3 531.7,362.5 538.3,364.2 545.0,366.3 551.7,367.5 558.3,368.7 563.3,368.3 570.0,371.3 575.0,372.8 586.7,371.7 593.3,372.8 600.0,374.7 606.7,372.8 618.3,370.8 626.7,371.7 636.7,370.8 648.3,371.2 655.0,372.8 661.7,376.7 668.3,379.2 676.7,380.8 683.3,381.7 690.0,380.3 698.3,378.3 705.0,375.8 715.0,374.7 723.3,372.5 730.0,372.0 736.7,372.2 743.3,370.8 749.2,369.7 755.0,369.7 760.0,371.3 766.7,375.5 773.3,377.5 780.0,378.3 790.0,377.5 798.3,379.5 805.0,383.3 810.0,384.5 818.3,388.7 826.7,392.0 835.0,393.8 841.7,393.3 848.3,392.5 855.0,389.2 860.0,388.0 866.7,389.7 873.3,389.2 879.2,388.3 885.0,389.7 891.7,392.2 896.7,391.3 903.3,393.0 910.0,392.5 916.7,394.2 922.5,394.5" fill="none" stroke="#2962ff" stroke-width="1.3" stroke-linejoin="round" stroke-linecap="round"/>
<polyline points="2.5,487.8 13.0,480.8 19.2,483.7 31.7,474.5 37.5,493.3 43.3,516.0 50.0,537.3 55.8,536.0 62.2,534.3 68.3,528.5 74.5,521.8 80.8,514.3 87.0,511.8 93.3,507.3 99.5,506.0 105.5,508.2 112.0,508.8 118.3,509.0 124.2,497.3 130.8,493.5 136.7,498.0 143.0,518.5 149.2,534.3 155.3,541.0 161.7,539.7 167.5,539.0 173.8,527.7 180.0,518.5 186.2,505.2 192.5,500.5 198.7,497.2 204.8,500.5 211.0,503.0 217.2,507.5 223.4,506.3 229.6,497.5 235.8,478.3 242.0,467.5 248.2,466.3 254.3,478.0 260.5,483.3 266.7,486.7 272.9,483.0 279.1,479.2 285.3,481.2 291.5,482.2 297.7,479.7 303.8,477.5 310.0,474.2 316.2,478.7 322.4,477.2 328.6,478.8 334.8,482.5 341.0,476.7 347.2,470.8 353.3,460.8 359.5,455.8 365.7,469.2 371.9,478.3 378.1,486.2 384.3,473.3 390.5,464.2 396.6,463.3 402.8,472.5 409.0,474.5 415.2,471.3 421.4,465.3 427.6,461.2 433.8,462.0 440.0,462.5 446.1,473.7 452.3,473.7 458.5,484.2 464.7,498.3 470.9,509.5 477.1,507.0 483.3,495.8 489.5,492.0 495.6,484.7 501.8,485.5 508.0,487.5 514.2,488.7 520.4,482.2 526.6,470.0 532.8,465.3 538.9,468.8 545.1,484.2 551.3,493.7 557.5,498.3 563.7,493.7 569.9,510.3 576.1,515.8 582.3,515.5 588.4,494.7 594.6,493.3 600.8,505.8 607.0,508.3 613.2,502.5 619.4,487.0 625.6,494.5 631.8,493.3 637.9,495.3 644.1,490.8 650.3,492.8 656.5,504.2 662.7,516.2 668.9,525.3 675.1,522.5 681.2,520.8 687.4,511.7 693.6,501.7 699.8,482.0 706.0,467.5 712.2,461.3 718.4,461.2 724.6,462.5 730.7,465.0 736.9,468.3 743.1,467.5 749.3,465.0 755.5,465.3 761.7,481.7 767.9,501.7 774.1,510.8 780.2,511.7 786.4,498.7 792.6,494.2 798.8,497.5 805.0,515.8 811.2,527.5 817.4,537.0 823.5,533.8 829.7,535.3 835.9,530.3 842.1,525.8 848.3,520.8 854.5,512.5 860.7,506.7 866.9,510.3 873.0,513.8 879.2,515.3 885.4,510.8 891.6,517.5 897.8,516.2 904.0,519.7 910.2,513.0 916.4,524.5 922.5,523.3" fill="none" stroke="#ff6d00" stroke-width="1.2" stroke-linejoin="round" stroke-linecap="round"/>
<polyline points="2.5,480.0 6.3,485.3 13.0,481.2 19.2,483.3 25.3,471.3 31.7,469.2 35.5,511.7 38.3,539.3 44.2,537.7 50.0,535.2 55.8,535.7 62.2,533.5 68.3,516.0 74.5,518.0 80.8,508.8 87.0,510.2 93.3,503.0 99.5,505.2 105.5,516.0 112.0,505.2 118.3,506.3 124.2,479.7 130.8,494.3 143.0,544.0 149.2,539.7 155.3,540.2 161.7,539.3 167.5,538.0 173.8,510.5 180.0,508.2 186.2,496.3 192.5,496.8 198.7,497.5 204.8,506.2 211.0,504.7 217.2,511.3 223.4,502.5 229.6,475.8 235.8,452.0 242.0,470.8 248.2,477.5 254.3,485.5 260.5,486.7 266.7,488.3 272.9,475.0 279.1,474.7 285.3,493.8 291.5,479.2 297.7,466.7 303.8,487.8 310.0,467.2 316.2,480.8 322.4,483.3 328.6,472.2 334.8,491.7 341.0,466.7 347.2,453.0 353.3,460.3 359.5,453.3 365.7,492.8 371.9,488.7 378.1,477.5 384.3,455.5 390.5,459.2 396.6,475.0 402.8,484.2 409.0,463.7 415.2,466.2 421.4,466.2 427.6,451.3 433.8,468.3 440.0,467.5 446.1,485.0 452.3,469.2 458.5,498.3 464.7,526.7 470.9,501.7 477.1,493.8 483.3,493.0 489.5,490.5 495.6,470.8 501.8,494.7 508.0,496.3 514.2,474.7 520.4,477.0 526.6,457.8 532.8,460.3 538.9,487.5 545.1,505.0 551.3,490.3 557.5,500.0 563.7,490.5 569.9,540.0 576.1,515.8 582.3,489.2 588.4,477.5 594.6,512.5 600.8,527.5 607.0,485.5 613.2,494.7 619.4,480.0 625.6,508.7 631.8,491.7 637.9,485.5 644.1,494.7 650.3,498.0 656.5,519.2 662.7,531.3 668.9,524.2 675.1,512.0 681.2,526.7 687.4,495.0 693.6,483.3 699.8,466.7 706.0,452.8 712.2,464.5 718.4,466.7 724.6,457.2 730.7,471.3 736.9,476.3 743.1,455.0 749.3,462.5 755.5,476.7 761.7,501.7 767.9,525.0 774.1,506.2 780.2,503.7 786.4,486.3 792.6,492.5 798.8,513.3 805.0,541.7 811.2,527.8 817.4,541.7 823.5,531.7 829.7,532.0 835.9,527.8 842.1,517.5 848.3,517.0 854.5,501.3 860.7,500.8 866.9,528.3 873.0,513.0 879.2,504.2 885.4,515.0 891.6,533.3 897.8,500.0 904.0,525.8 910.2,511.7 916.4,535.8 922.5,523.3" fill="none" stroke="#2962ff" stroke-width="1.2" stroke-linejoin="round" stroke-linecap="round"/>
<line x1="372" y1="186.8" x2="960" y2="186.8" stroke="#111" stroke-width="2"/>
<polygon points="349.2,186.8 373,175.6 373,198" fill="#000"/>
<g stroke="#e0e3eb" stroke-width="1.3"><line x1="2" y1="341.5" x2="1200" y2="341.5"/><line x1="2" y1="444.8" x2="1200" y2="444.8"/></g>
</svg>
<!-- legends -->
<div class="lg" style="left:9px;top:7px;width:141px;height:56px;"></div>
<div class="abs" id="title" style="left:12.5px;top:9px;font-size:15.2px;line-height:20px;color:#45474f;"><span style="letter-spacing:-1.35px">HAS</span><span class="abs" style="left:32px;color:#a3a6af">·</span><span class="abs" style="left:41.9px;letter-spacing:.42px">TradingView</span></div>
<div class="abs" style="left:158px;top:9.7px;width:40.7px;height:17px;border-radius:9px;overflow:hidden;background:linear-gradient(90deg,#d4efe9 0,#d4efe9 49.5%,#fcdbe6 49.5%,#fcdbe6 100%);"></div>
<div class="abs" style="left:165.1px;top:14.2px;width:8.2px;height:8.2px;border-radius:50%;background:#089981;"></div>
<div class="abs" style="left:182px;top:9.5px;width:11px;text-align:center;font-size:17px;line-height:16px;color:#d81b60;font-weight:700;">≈</div>
<div class="abs ohlc" style="left:215.8px;top:11px;font-size:12.7px;line-height:18px;color:#3f7a57;">
<span class="abs" style="left:0"><span style="color:#6a6d78">O</span>79.95</span>
<span class="abs" style="left:49.5px"><span style="color:#6a6d78">H</span>81.81</span>
<span class="abs" style="left:98.5px"><span style="color:#6a6d78">L</span>77.11</span>
<span class="abs" style="left:145.6px"><span style="color:#6a6d78">C</span>80.87</span>
<span class="abs" style="left:193.7px">+1.66</span>
<span class="abs" style="left:231.4px">(+2.10%)</span>
</div>
<svg class="abs" style="left:8px;top:32px" width="145" height="30" viewBox="8 32 145 30"><rect x="11.8" y="35.3" width="47.7" height="23.6" rx="3.6" fill="#fff" stroke="#f7525f" stroke-width="1.5"/><rect x="99.8" y="35.3" width="47.9" height="23.6" rx="3.6" fill="#fff" stroke="#5b85ff" stroke-width="1.5"/></svg>
<div class="box" style="left:11px;top:34.5px;width:49px;height:24.5px;line-height:26px;border:0;background:none;color:#f23645;">80.68</div>
<div class="abs" style="left:68.5px;top:37.8px;font-size:12px;line-height:20px;color:#5d606b;">0.28</div>
<div class="box" style="left:99px;top:34.5px;width:49px;height:24.5px;line-height:26px;border:0;background:none;color:#2962ff;">80.96</div>
<div class="lg" style="left:9px;top:63px;width:70px;height:24.5px;"></div>
<div class="abs" style="left:12px;top:68px;font-size:12.6px;line-height:18px;color:#50535e;"><span style="letter-spacing:-.5px;font-size:11.6px">EMA</span><span class="abs" style="left:33px;color:#2962ff;">87.81</span></div>
<div class="lg" style="left:9px;top:350px;width:158px;height:18px;background:rgba(255,255,255,.45)"></div>
<div class="abs" style="left:12px;top:350px;font-size:12.4px;line-height:18px;color:#50535e;"><span style="letter-spacing:-.8px">MACD</span><span class="abs" style="left:41.8px;color:#ffcdd2;font-size:12.8px;">−0.44</span><span class="abs" style="left:81.6px;color:#2962ff;font-size:12.8px;">−3.14</span><span class="abs" style="left:120.6px;color:#ff6d00;font-size:12.8px;">−2.71</span></div>
<div class="lg" style="left:7px;top:455px;width:123px;height:19px;"></div>
<div class="abs" style="left:12px;top:454px;font-size:12.4px;line-height:18px;color:#50535e;"><span style="letter-spacing:0px">Stoch</span><span class="abs" style="left:41.2px;color:#2962ff;font-size:13px;">21.98</span><span class="abs" style="left:80.3px;color:#ff6d00;font-size:13px;">21.68</span></div>
<!-- callout -->
<svg class="abs" style="left:955px;top:155px" width="190" height="64" viewBox="955 155 190 64"><rect x="960.25" y="160.05" width="178.3" height="52.4" rx="3.6" fill="#fff" stroke="#111" stroke-width="1.9"/></svg>
<div class="abs" id="callout" style="left:966.4px;top:162.4px;width:170px;color:#000;font-size:20.9px;line-height:24px;white-space:normal;">Potentially strong support</div>
<!-- right axis -->
<div class="abs" style="left:1146.0px;top:2px;width:54.0px;height:576px;background:#fff;"></div>
<div class="abs" style="left:1145.2px;top:2px;width:1.6px;height:576.5px;background:#909090;"></div>
<div class="ptxt" style="top:25px;color:#9a9ca3;">120.00</div>
<div class="abs" style="left:1150px;top:4px;width:45px;height:21px;background:rgba(255,255,255,.6);"></div>
<div class="abs" style="left:1156.8px;top:8px;font-size:10px;line-height:13px;color:#50535e;transform:scale(.88,1.14);transform-origin:0 50%;">USD</div>
<svg class="abs" style="left:1178px;top:11.5px" width="7" height="5" viewBox="0 0 7 5"><path d="M0.8 1 L3.3 3.4 L5.8 1" fill="none" stroke="#3c3f48" stroke-width="1.1"/></svg>
<div class="ptxt" style="top:61.5px;">110.00</div>
<div class="ptxt" style="top:99.2px;">100.00</div>
<div class="ptxt" style="top:136.8px;">90.00</div>
<div class="ptxt" style="top:212.0px;">70.00</div>
<div class="ptxt" style="top:249.6px;">60.00</div>
<div class="ptxt" style="top:287.3px;">50.00</div>
<div class="ptxt" style="top:325.0px;">40.00</div>
<div class="ptxt" style="top:425.5px;">−10.00</div>
<div class="ptxt" style="top:463px;">80.00</div>
<div class="ptxt" style="top:500.5px;">40.00</div>
<div class="plab" style="left:1146.0px;top:142.4px;width:44px;height:17.3px;line-height:18.900000000000002px;background:#2962ff;color:#fff;font-weight:700;">87.81</div>
<div class="abs" style="left:1139.6px;top:168px;width:5px;height:15.1px;background:#6ba583;"></div><div class="abs" style="left:1144.5px;top:169px;width:1.2px;height:16.8px;background:#cfe3d6;"></div>
<div class="plab" style="left:1145.6px;top:169px;width:43.8px;height:16.9px;line-height:18.5px;background:#6ba583;color:#e4f1e8;font-weight:400;padding-left:9.5px;">3d 5h</div>
<div class="plab" style="left:1146.0px;top:372.3px;width:44px;height:16.5px;line-height:18.1px;background:#ffcdd2;color:#131722;font-weight:400;padding-left:10px;">−0.44</div>
<div class="plab" style="left:1146.0px;top:388.8px;width:44px;height:16.6px;line-height:18.200000000000003px;background:#ff6d00;color:#fff;font-weight:700;padding-left:10px;border-radius:0;">−2.71</div>
<div class="plab" style="left:1146.0px;top:405.4px;width:44px;height:16px;line-height:17.6px;background:#2962ff;color:#fff;font-weight:700;padding-left:10px;">−3.14</div>
<div class="plab" style="left:1146.0px;top:516px;width:43.8px;height:16.5px;line-height:18.1px;background:#2962ff;color:#fff;font-weight:700;border-radius:0 2px 0 0;">21.98</div>
<div class="plab" style="left:1146.0px;top:532.5px;width:44px;height:16.6px;line-height:18.200000000000003px;background:#ff6d00;color:#fff;font-weight:700;border-radius:0 0 2px 0;">21.68</div>
<div class="abs" style="left:1146.8px;top:340.9px;width:54.0px;height:1.2px;background:#e0e3eb;"></div>
<div class="abs" style="left:1146.8px;top:444.2px;width:54.0px;height:1.2px;background:#e0e3eb;"></div>
<!-- time axis -->
<div class="abs" style="left:2px;top:550.4px;width:1198px;height:28px;background:#fff;"></div>
<div class="abs" style="left:2px;top:550px;width:1198px;height:0.9px;background:#555;"></div>
<div class="abs" style="left:1145.2px;top:550px;width:1.6px;height:28.5px;background:#909090;"></div>
<div class="abs" style="left:0;top:578px;width:1200px;height:1px;background:#e0e3eb;"></div>
<div class="tl b" style="left:76.2px;">2020</div>
<div class="tl" style="left:156.6px;">Apr</div>
<div class="tl" style="left:237.0px;">Jul</div>
<div class="tl" style="left:317.4px;">Oct</div>
<div class="tl b" style="left:397.8px;">2021</div>
<div class="tl" style="left:478.2px;">Apr</div>
<div class="tl" style="left:558.6px;">Jul</div>
<div class="tl" style="left:639.0px;">Oct</div>
<div class="tl b" style="left:719.4px;">2022</div>
<div class="tl" style="left:799.8px;">Apr</div>
<div class="tl" style="left:880.2px;">Jul</div>
<div class="tl" style="left:960.6px;">Oct</div>
<div class="tl b" style="left:1041.0px;">2023</div>
<svg class="abs" style="left:1165px;top:555.6px" width="17" height="17" viewBox="-8.5 -8.5 17 17">
<g stroke="#434651" fill="none"><circle r="4.9" stroke-width="1.3"/>
<g stroke-width="1.6" stroke-linecap="butt"><line x1="5.20" y1="0.00" x2="7.00" y2="0.00"/><line x1="3.68" y1="3.68" x2="4.95" y2="4.95"/><line x1="0.00" y1="5.20" x2="0.00" y2="7.00"/><line x1="-3.68" y1="3.68" x2="-4.95" y2="4.95"/><line x1="-5.20" y1="0.00" x2="-7.00" y2="0.00"/><line x1="-3.68" y1="-3.68" x2="-4.95" y2="-4.95"/><line x1="-0.00" y1="-5.20" x2="-0.00" y2="-7.00"/><line x1="3.68" y1="-3.68" x2="4.95" y2="-4.95"/></g></g></svg>
<!-- border -->
<div class="abs" style="left:0;top:0;width:1200px;height:2px;background:#dfe2ee;"></div>
<div class="abs" style="left:0;top:0;width:2px;height:583px;background:#dfe2ee;"></div>
<!-- logo -->
<div class="abs" style="left:9.3px;top:510px;width:34.8px;height:34.8px;border-radius:50%;background:#fff;border:1px solid #dcdfe6;box-sizing:border-box;"></div>
<svg class="abs" style="left:15.9px;top:522.2px" width="23" height="12" viewBox="0 0 23 12"><path d="M0 0H9.3V11.3H4.95V3.9H0Z" fill="#131722"/><circle cx="12.6" cy="2" r="1.9" fill="#131722"/><path d="M17.1 0H21.9L17.5 11.3H13Z" fill="#131722"/></svg>
</body></html>
